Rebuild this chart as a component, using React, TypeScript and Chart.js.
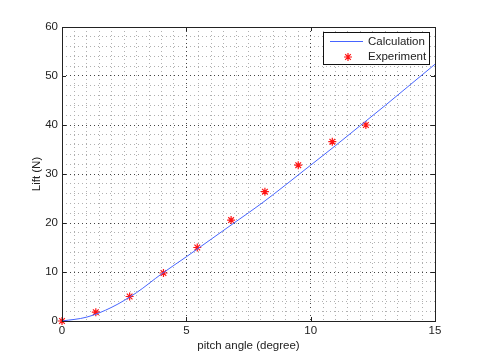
import React, { useEffect, useRef } from "react";
import { Chart, registerables } from "chart.js";

Chart.register(...registerables);

// Calculation curve
const calcAngle = [0, 1, 2, 3, 4, 5, 6, 7, 8, 9, 10, 11, 12, 13, 14, 15];
const calcLift = [0, 0.8, 2.8, 5.8, 9.6, 13.1, 16.7, 20.3, 23.9, 27.8, 31.8, 35.8, 39.9, 44.0, 48.2, 52.4];

// Experiment points
const expAngle = [0, 1.36, 2.72, 4.08, 5.44, 6.8, 8.16, 9.5, 10.87, 12.22];
const expLift = [0, 1.8, 5.0, 9.8, 15.0, 20.6, 26.4, 31.8, 36.6, 40.0];

const xTickLabels = [0, 5, 10, 15];
const yTickLabels = [0, 10, 20, 30, 40, 50, 60];

const seriesNames = ["Calculation", "Experiment"];
const axisTitles = { x: "pitch angle (degree)", y: "Lift (N)" };

const FONT = "'Liberation Sans', Arial, Helvetica, sans-serif";
const TEXT = "#222";
const LINE_COLOR = "rgb(70,100,255)";
const MARK_COLOR = "rgb(255,20,20)";

const framePlugin = {
  id: "frame",
  afterDatasetsDraw(chart: any) {
    const { ctx, chartArea: a, scales } = chart;
    ctx.save();
    ctx.strokeStyle = "#222";
    ctx.lineWidth = 1;
    ctx.strokeRect(Math.round(a.left) + 0.5, Math.round(a.top) + 0.5, Math.round(a.right - a.left), Math.round(a.bottom - a.top));
    const len = 4;
    ctx.beginPath();
    xTickLabels.forEach((v) => {
      const x = Math.round(scales.x.getPixelForValue(v)) + 0.5;
      ctx.moveTo(x, a.bottom);
      ctx.lineTo(x, a.bottom - len);
      ctx.moveTo(x, a.top);
      ctx.lineTo(x, a.top + len);
    });
    yTickLabels.forEach((v) => {
      const y = Math.round(scales.y.getPixelForValue(v)) + 0.5;
      ctx.moveTo(a.left, y);
      ctx.lineTo(a.left + len, y);
      ctx.moveTo(a.right, y);
      ctx.lineTo(a.right - len, y);
    });
    ctx.stroke();
    ctx.restore();
  },
};

const legendPlugin = {
  id: "boxLegend",
  afterDraw(chart: any) {
    const { ctx, chartArea: a } = chart;
    const right = a.right - 6;
    const left = right - 106;
    const top = a.top + 5;
    const h = 32;
    ctx.save();
    ctx.fillStyle = "#fff";
    ctx.fillRect(left, top, right - left, h);
    ctx.strokeStyle = "#111";
    ctx.lineWidth = 1;
    ctx.strokeRect(Math.round(left) + 0.5, Math.round(top) + 0.5, Math.round(right - left), h);
    const ds = chart.data.datasets;
    const row1 = top + 9.5;
    const row2 = top + 25;
    // line sample
    ctx.strokeStyle = ds[0].borderColor;
    ctx.lineWidth = 1;
    ctx.beginPath();
    ctx.moveTo(left + 7, row1);
    ctx.lineTo(left + 40, row1);
    ctx.stroke();
    // star sample
    ctx.strokeStyle = ds[1].borderColor;
    ctx.lineWidth = 1.2;
    const cx = left + 25;
    const r = 4;
    ctx.beginPath();
    for (let i = 0; i < 4; i++) {
      const ang = (Math.PI / 4) * i;
      ctx.moveTo(cx + Math.cos(ang) * r, row2 + Math.sin(ang) * r);
      ctx.lineTo(cx - Math.cos(ang) * r, row2 - Math.sin(ang) * r);
    }
    ctx.stroke();
    ctx.fillStyle = TEXT;
    ctx.font = `11.5px ${FONT}`;
    ctx.textBaseline = "middle";
    ctx.textAlign = "left";
    ctx.fillText(ds[0].label, left + 45, row1);
    ctx.fillText(ds[1].label, left + 45, row2);
    ctx.restore();
  },
};

export default function App() {
  const ref = useRef<HTMLCanvasElement | null>(null);

  useEffect(() => {
    if (!ref.current) return;
    const chart = new Chart(ref.current, {
      type: "scatter",
      data: {
        datasets: [
          {
            label: seriesNames[0],
            data: calcAngle.map((x, i) => ({ x, y: calcLift[i] })),
            showLine: true,
            borderColor: LINE_COLOR,
            backgroundColor: LINE_COLOR,
            borderWidth: 1,
            pointRadius: 0,
            cubicInterpolationMode: "monotone",
          },
          {
            label: seriesNames[1],
            data: expAngle.map((x, i) => ({ x, y: expLift[i] })),
            showLine: false,
            borderColor: MARK_COLOR,
            backgroundColor: MARK_COLOR,
            pointStyle: "star",
            pointRadius: 4,
            borderWidth: 1.2,
            clip: false,
          },
        ],
      },
      options: {
        responsive: false,
        animation: false,
        devicePixelRatio: 1,
        layout: { padding: { left: 0, top: 27, right: 45, bottom: 0 } },
        plugins: {
          legend: { display: false },
          tooltip: { enabled: false },
        },
        scales: {
          x: {
            type: "linear",
            min: 0,
            max: 15,
            afterFit: (s: any) => {
              s.height = 40;
            },
            afterBuildTicks: (s: any) => {
              const t = [];
              for (let i = 0; i <= 30; i++) t.push({ value: i * 0.5 });
              s.ticks = t;
            },
            ticks: {
              autoSkip: false,
              maxRotation: 0,
              padding: 3,
              color: TEXT,
              font: { family: FONT, size: 11.5 },
              callback: (v: any) => (xTickLabels.includes(Number(v)) ? String(v) : ""),
            },
            grid: {
              drawTicks: false,
              tickLength: 0,
              color: (c: any) => (xTickLabels.includes(c.tick?.value) ? "#444" : "#b0b0b0"),
              lineWidth: 1,
            },
            border: { display: false, dash: [1, 3] },
            title: {
              display: true,
              text: axisTitles.x,
              color: TEXT,
              font: { family: FONT, size: 11.5 },
              padding: { top: 0, bottom: 8 },
            },
          },
          y: {
            type: "linear",
            min: 0,
            max: 60,
            afterFit: (s: any) => {
              s.width = 62;
            },
            afterBuildTicks: (s: any) => {
              const t = [];
              for (let i = 0; i <= 30; i++) t.push({ value: i * 2 });
              s.ticks = t;
            },
            ticks: {
              autoSkip: false,
              padding: 4,
              color: TEXT,
              font: { family: FONT, size: 11.5 },
              callback: (v: any) => (yTickLabels.includes(Number(v)) ? String(v) : ""),
            },
            grid: {
              drawTicks: false,
              tickLength: 0,
              color: (c: any) => (yTickLabels.includes(c.tick?.value) ? "#444" : "#b0b0b0"),
              lineWidth: 1,
            },
            border: { display: false, dash: [1, 3] },
            title: {
              display: true,
              text: axisTitles.y,
              color: TEXT,
              font: { family: FONT, size: 11.5 },
              padding: { top: 30, bottom: 0 },
            },
          },
        },
      },
      plugins: [framePlugin, legendPlugin],
    });
    return () => chart.destroy();
  }, []);

  return (
    <div style={{ position: "absolute", left: 0, top: 0, width: 480, height: 361, background: "#fff" }}>
      <canvas ref={ref} width={480} height={361} style={{ width: 480, height: 361, display: "block" }} />
    </div>
  );
}
